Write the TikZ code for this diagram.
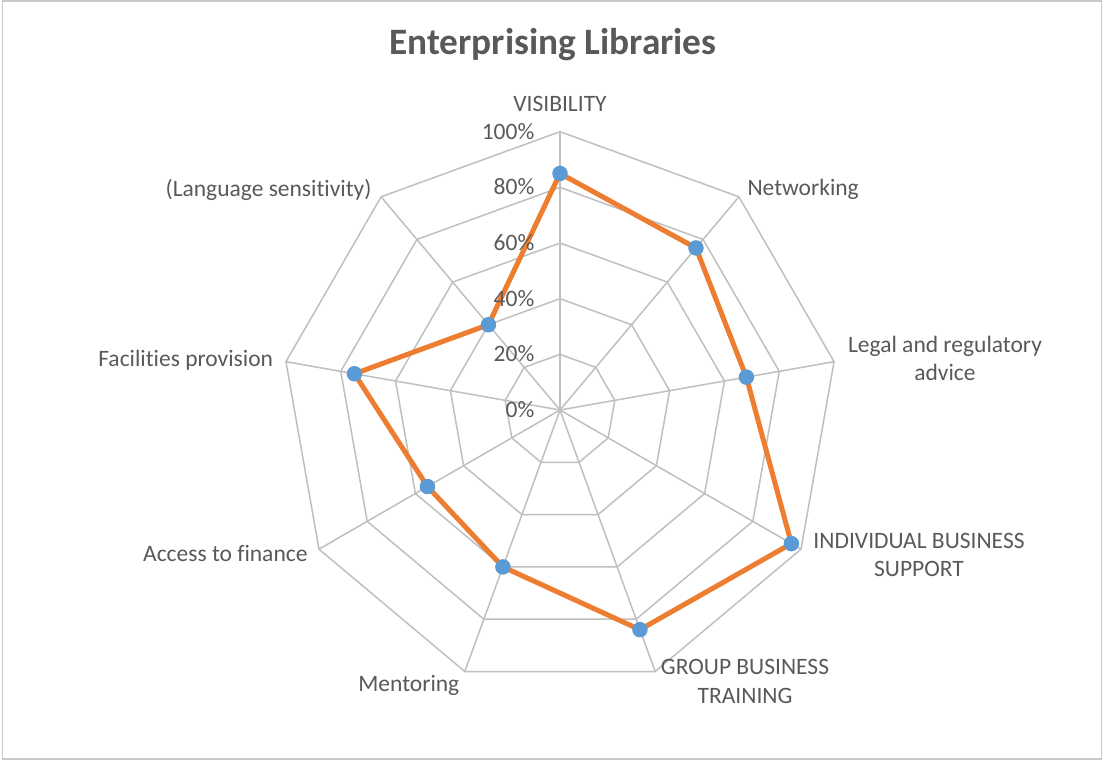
\documentclass[tikz,border=0pt]{standalone}
\usepackage{fontspec}
\setmainfont{Carlito}[Ligatures=NoCommon]
\definecolor{txt}{HTML}{595959}
\definecolor{gridc}{HTML}{BFBFBF}
\definecolor{framec}{HTML}{C8C8C8}
\definecolor{orng}{HTML}{ED7D31}
\definecolor{blu}{HTML}{5B9BD5}
\begin{document}
\begin{tikzpicture}[x=1pt,y=-1pt,
  framebox/.style={draw=framec,line width=1.5pt},
  gridline/.style={draw=gridc,line width=1.5pt},
  series/.style={draw=orng,line width=5pt,line join=round},
  marker/.style={circle,fill=blu,draw=none,minimum size=15.5pt,inner sep=0pt},
  lbl/.style={text=txt,inner sep=0pt,font=\fontsize{23.5}{28.5}\selectfont},
  tick/.style={lbl,anchor=base east},
  ttl/.style={text=txt,inner sep=0pt,font=\fontsize{37.3}{42}\selectfont\bfseries}]
\useasboundingbox (0,0) rectangle (1103,760);
\draw[framebox] (2.5,0.8) rectangle (1101.7,759.2);
\def\R{278.3}
\coordinate (c) at (560,410);
% grid polygons
\foreach \k in {1,...,5}{
  \draw[gridline] ({560+\k*\R/5*cos(90)},{410-\k*\R/5*sin(90)})
    \foreach \i in {1,...,8}{ -- ({560+\k*\R/5*cos(90-40*\i)},{410-\k*\R/5*sin(90-40*\i)}) } -- cycle;
}
% spokes
\foreach \i in {0,...,8}{
  \coordinate (a\i) at ({560+\R*cos(90-40*\i)},{410-\R*sin(90-40*\i)});
  \draw[gridline] (c) -- (a\i);
}
% data
\foreach \v [count=\i from 0] in {85,76,68,96,84,60,55,75,40}{
  \coordinate (p\i) at ({560+\v/100*\R*cos(90-40*\i)},{410-\v/100*\R*sin(90-40*\i)});
}
\draw[series] (p0) -- (p1) -- (p2) -- (p3) -- (p4) -- (p5) -- (p6) -- (p7) -- (p8) -- cycle;
\foreach \i in {0,...,8}{ \node[marker] (m\i) at (p\i) {}; }
% tick labels
\foreach \k/\t in {0/0\%,1/20\%,2/40\%,3/60\%,4/80\%,5/100\%}{
  \node[tick] (t\k) at (534.5,{410-\k*\R/5+7.5}) {\t};
}
% title
\node[ttl,anchor=base] (title) at (553,55) {Enterprising Libraries};
% axis labels
\node[lbl,anchor=base] (l0) at (560,111) {VISIBILITY};
\node[lbl,anchor=base west] (l1) at (747.3,195) {Networking};
\node[lbl,anchor=base,align=center] (l2) at (945,380.7) {Legal and regulatory\\advice};
\node[lbl,anchor=base,align=center] (l3) at (919,576.7) {INDIVIDUAL BUSINESS\\SUPPORT};
\node[lbl,anchor=base,align=center] (l4) at (745,703.3) {GROUP BUSINESS\\TRAINING};
\node[lbl,anchor=base east] (l5) at (459.5,691.7) {Mentoring};
\node[lbl,anchor=base east] (l6) at (307.7,561.7) {Access to finance};
\node[lbl,anchor=base east] (l7) at (273.3,366.7) {Facilities provision};
\node[lbl,anchor=base east] (l8) at (371.7,196) {(Language sensitivity)};
\end{tikzpicture}
\end{document}
